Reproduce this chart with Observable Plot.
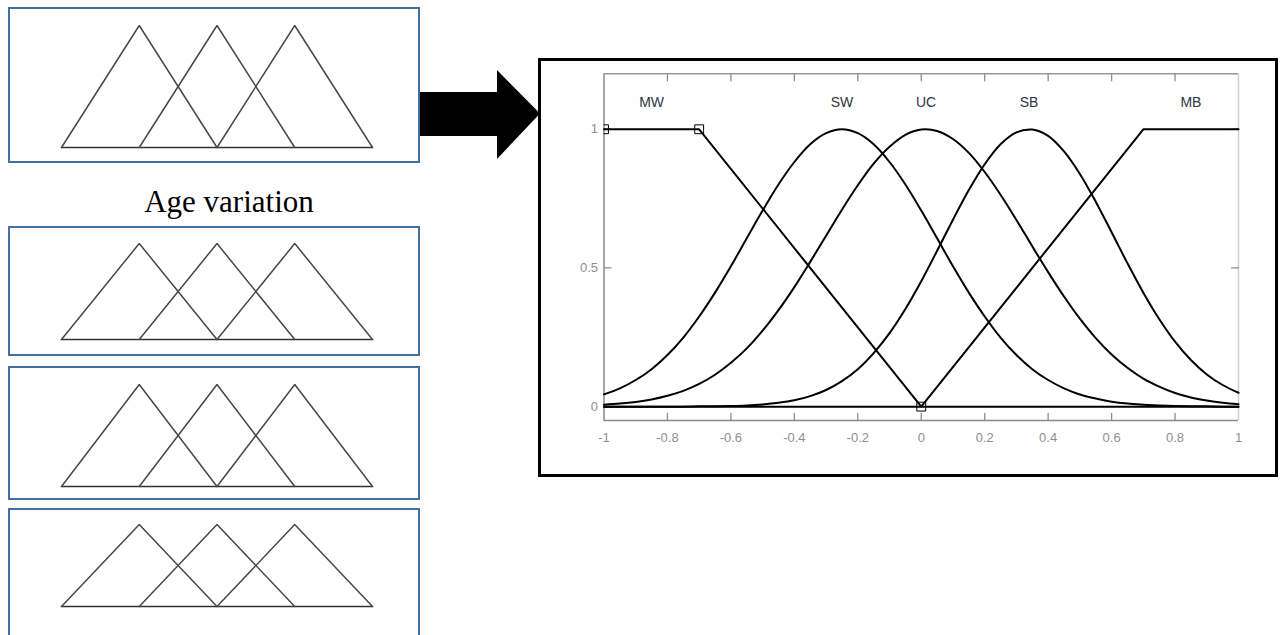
<!DOCTYPE html>
<html>
<head>
<meta charset="utf-8">
<script src="https://cdn.jsdelivr.net/npm/d3@7"></script>
<script src="https://cdn.jsdelivr.net/npm/@observablehq/plot@0.6"></script>
<style>
  html, body { margin: 0; padding: 0; background: #fff; }
  #page { position: relative; width: 1282px; height: 635px; overflow: hidden; background: #fff; }
  .box { position: absolute; box-sizing: border-box; pointer-events: none; }
  svg.plot-svg { position: absolute; background: transparent; }
</style>
</head>
<body>
<div id="page"></div>
<script>
// ---- Age-variation fuzzy sets (three overlapping triangles per panel) ----
const triLeft  = [0, 0.5, 1];
const triPeak  = [0.5, 1, 1.5];
const triRight = [1, 1.5, 2];
const triTopDegree = 1;

// ---- Output membership functions on [-1, 1] ----
const mfNames  = ["MW", "SW", "UC", "SB", "MB"];
const mfLabelX = [-0.85, -0.25, 0.015, 0.34, 0.85];
const mfLabelLevel = 1.1;

// shared abscissa for the bell-shaped sets
const xGrid = [-1, -0.95, -0.9, -0.85, -0.8, -0.75, -0.7, -0.65, -0.6, -0.55, -0.5,
  -0.45, -0.4, -0.35, -0.3, -0.25, -0.2, -0.15, -0.1, -0.05, 0,
  0.05, 0.1, 0.15, 0.2, 0.25, 0.3, 0.35, 0.4, 0.45, 0.5,
  0.55, 0.6, 0.65, 0.7, 0.75, 0.8, 0.85, 0.9, 0.95, 1];

const swValues = [0.044, 0.066, 0.096, 0.135, 0.186, 0.249, 0.325, 0.411, 0.506, 0.607, 0.707,
  0.801, 0.882, 0.946, 0.986, 1, 0.986, 0.946, 0.882, 0.801, 0.707,
  0.607, 0.506, 0.411, 0.325, 0.249, 0.186, 0.135, 0.096, 0.066, 0.044,
  0.029, 0.018, 0.011, 0.007, 0.004, 0.002, 0.001, 0.001, 0, 0];

const ucValues = [0.007, 0.011, 0.017, 0.026, 0.039, 0.057, 0.082, 0.115, 0.158, 0.210, 0.274,
  0.348, 0.431, 0.522, 0.616, 0.710, 0.798, 0.876, 0.937, 0.980, 0.999,
  0.994, 0.965, 0.915, 0.846, 0.764, 0.673, 0.578, 0.485, 0.397, 0.317,
  0.247, 0.188, 0.140, 0.101, 0.072, 0.049, 0.033, 0.022, 0.014, 0.009];

const sbValues = [0, 0, 0, 0, 0, 0, 0.001, 0.001, 0.002, 0.004, 0.008,
  0.014, 0.023, 0.038, 0.060, 0.092, 0.135, 0.193, 0.265, 0.352, 0.452,
  0.562, 0.674, 0.781, 0.874, 0.946, 0.989, 0.999, 0.976, 0.920, 0.839,
  0.739, 0.629, 0.517, 0.411, 0.316, 0.234, 0.168, 0.116, 0.078, 0.050];

// trapezoidal end sets
const mwX = [-1, -0.7, 0, 1];
const mwY = [1, 1, 0, 0];
const mbX = [-1, 0, 0.7, 1];
const mbY = [0, 0, 1, 1];
// editable break points of the MW set
const mwHandleX = [-1, -0.7, 0];
const mwHandleY = [1, 1, 0];

const xDomain = [-1, 1];
const yDomain = [-0.05, 1.2];
const xTicks = [-1, -0.8, -0.6, -0.4, -0.2, 0, 0.2, 0.4, 0.6, 0.8, 1];
const xTickLabels = ["-1", "-0.8", "-0.6", "-0.4", "-0.2", "0", "0.2", "0.4", "0.6", "0.8", "1"];
const yTicks = [0, 0.5, 1];
const yTickLabels = ["0", "0.5", "1"];

const captionText = "Age variation";

// ---------------------------------------------------------------------------
const page = document.getElementById("page");
const sans = "'Liberation Sans', Arial, sans-serif";

function place(svg, left, top) {
  svg.classList.add("plot-svg");
  svg.style.left = left + "px";
  svg.style.top = top + "px";
  svg.style.maxWidth = "none";
  page.appendChild(svg);
}
function addBox(left, top, width, height, border) {
  const d = document.createElement("div");
  d.className = "box";
  Object.assign(d.style, {left: left + "px", top: top + "px", width: width + "px", height: height + "px", border});
  page.appendChild(d);
}

// decorations: block arrow and caption
const deco = d3.create("svg")
  .attr("width", 1282).attr("height", 635)
  .style("position", "absolute").style("left", "0px").style("top", "0px");
deco.append("polygon")
  .attr("points", "419,92 497,92 497,70 540,113.5 497,159 497,136 419,136")
  .attr("fill", "#000");
deco.append("text")
  .attr("x", 229).attr("y", 212)
  .attr("text-anchor", "middle")
  .attr("font-family", "'Liberation Serif', 'Times New Roman', serif")
  .attr("font-size", 31)
  .attr("fill", "#000")
  .text(captionText);
page.appendChild(deco.node());

// ---- left panels ----
const triRows = [];
triLeft.forEach((l, i) => {
  triRows.push({set: i, x: l, y: 0});
  triRows.push({set: i, x: triPeak[i], y: triTopDegree});
  triRows.push({set: i, x: triRight[i], y: 0});
});
const feet = Array.from(new Set([...triLeft, ...triRight])).sort((a, b) => a - b);

const panelLayout = [
  {top: 7,   height: 156, mt: 18, mb: 16},
  {top: 226, height: 130, mt: 17, mb: 17},
  {top: 366, height: 134, mt: 18, mb: 14},
  {top: 508, height: 140, mt: 16, mb: 42}
];

panelLayout.forEach(p => {
  const svg = Plot.plot({
    width: 412, height: p.height,
    marginLeft: 53, marginRight: 48, marginTop: p.mt, marginBottom: p.mb,
    x: {domain: [feet[0], feet[feet.length - 1]], axis: null},
    y: {domain: [0, triTopDegree], axis: null},
    style: {background: "transparent", overflow: "visible"},
    marks: [
      Plot.line(feet, {x: d => d, y: () => 0, stroke: "#333", strokeWidth: 1.6}),
      Plot.line(triRows, {x: "x", y: "y", z: "set", stroke: "#474747", strokeWidth: 1.5, strokeLinejoin: "miter"})
    ]
  });
  place(svg, 8, p.top);
  addBox(8, p.top, 412, p.height, "2.5px solid #41719c");
});

// ---- right chart ----
const bellRows = [];
[["SW", swValues], ["UC", ucValues], ["SB", sbValues]].forEach(([name, vals]) => {
  vals.forEach((v, i) => bellRows.push({name, x: xGrid[i], y: v}));
});
const mwRows = mwX.map((x, i) => ({x, y: mwY[i]}));
const mbRows = mbX.map((x, i) => ({x, y: mbY[i]}));
const handles = mwHandleX.map((x, i) => ({x, y: mwHandleY[i]}));
const labels = mfNames.map((n, i) => ({name: n, x: mfLabelX[i]}));

const tickShape = {draw(ctx, l) { ctx.moveTo(0, 0); ctx.lineTo(0, -l); }};
const innerX = xTicks.slice(1, -1);
const axisGray = "#8e8e8e";

const chart = Plot.plot({
  width: 733, height: 413,
  marginLeft: 62.5, marginRight: 36, marginTop: 12.3, marginBottom: 54,
  x: {domain: xDomain, axis: null},
  y: {domain: yDomain, axis: null},
  style: {background: "transparent", overflow: "visible"},
  marks: [
    // axes box
    Plot.ruleX([xDomain[0]], {stroke: "#8a8a8a", strokeWidth: 1.5}),
    Plot.ruleX([xDomain[1]], {stroke: "#cfcfcf", strokeWidth: 1.5}),
    Plot.ruleY([yDomain[0]], {stroke: "#8a8a8a", strokeWidth: 1.5}),
    Plot.ruleY([yDomain[1]], {stroke: "#9a9a9a", strokeWidth: 1.5}),
    // inward ticks
    Plot.vector(innerX, {x: d => d, y: () => yDomain[0], length: 7, rotate: 0, anchor: "start", shape: tickShape, stroke: axisGray, strokeWidth: 1.3}),
    Plot.vector(innerX, {x: d => d, y: () => yDomain[1], length: 7, rotate: 180, anchor: "start", shape: tickShape, stroke: axisGray, strokeWidth: 1.3}),
    Plot.vector(yTicks, {x: () => xDomain[0], y: d => d, length: 7, rotate: 90, anchor: "start", shape: tickShape, stroke: axisGray, strokeWidth: 1.3}),
    Plot.vector(yTicks, {x: () => xDomain[1], y: d => d, length: 7, rotate: 270, anchor: "start", shape: tickShape, stroke: axisGray, strokeWidth: 1.3}),
    // tick labels
    Plot.text(xTicks, {x: d => d, y: () => yDomain[0], dy: 17, text: (d, i) => xTickLabels[i], fill: axisGray, fontFamily: sans, fontSize: 13}),
    Plot.text(yTicks, {x: () => xDomain[0], y: d => d, dx: -6, textAnchor: "end", text: (d, i) => yTickLabels[i], fill: axisGray, fontFamily: sans, fontSize: 13}),
    // membership functions
    Plot.line(mwRows, {x: "x", y: "y", stroke: "#000", strokeWidth: 2}),
    Plot.line(mbRows, {x: "x", y: "y", stroke: "#000", strokeWidth: 2}),
    Plot.line(bellRows, {x: "x", y: "y", z: "name", curve: "catmull-rom", stroke: "#000", strokeWidth: 2}),
    Plot.dot(handles, {x: "x", y: "y", symbol: "square", r: 5, fill: "none", stroke: "#000", strokeWidth: 1, clip: true}),
    // set names
    Plot.text(labels, {x: "x", y: () => mfLabelLevel, dy: 1, text: "name", fill: "#2f3540", fontFamily: sans, fontSize: 14})
  ]
});
place(chart, 541, 61);
addBox(538, 58, 740, 419, "3px solid #000");
</script>
</body>
</html>
